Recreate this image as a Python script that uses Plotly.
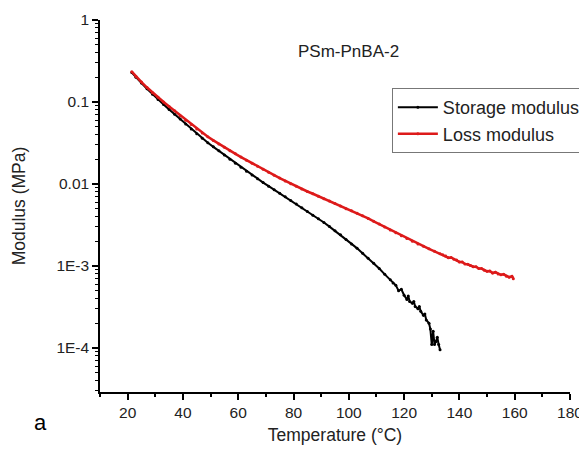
import plotly.graph_objects as go

# Storage modulus (black)
storage_T = [21.5, 23, 25, 27, 29, 31, 33, 35, 37, 39, 41, 43, 45, 47, 49, 51, 53, 55, 57, 59,
             61, 63, 65, 67, 69, 71, 73, 75, 77, 79, 81, 83, 85, 87, 89, 91, 93, 95, 97, 99,
             101, 103, 105, 107, 109, 111, 113, 115, 116, 117, 118, 119, 120, 121, 121.5, 122,
             123, 123.5, 124, 125, 125.5, 126, 127, 127.5, 128, 129, 129.5, 130, 130.5, 131,
             131.5, 132, 132.5, 133]
storage_G = [0.229, 0.200, 0.170, 0.145, 0.124, 0.107, 0.093, 0.081, 0.071, 0.062, 0.054, 0.047,
             0.041, 0.036, 0.0318, 0.0284, 0.0254, 0.0226, 0.0201, 0.0179, 0.0160, 0.0143, 0.0129,
             0.0116, 0.0104, 0.0094, 0.0085, 0.0077, 0.0070, 0.0063, 0.00569, 0.00513, 0.00462,
             0.00417, 0.00376, 0.00339, 0.00302, 0.00269, 0.00240, 0.00211, 0.00186, 0.00164,
             0.00143, 0.00124, 0.00108, 0.00093, 0.00079, 0.00068, 0.00062, 0.00058, 0.00050,
             0.00052, 0.00044, 0.00039, 0.00043, 0.00037, 0.00035, 0.00037, 0.00032, 0.00030,
             0.00032, 0.00028, 0.00025, 0.00026, 0.00022, 0.00020, 0.00017, 0.00011, 0.00016,
             0.00011, 0.00012, 0.000135, 0.00011, 0.000095]

# Loss modulus (red)
loss_T = [21.5, 23, 25, 27, 29, 31, 33, 35, 37, 39, 41, 43, 45, 47, 49, 51, 53, 55, 57, 59,
          61, 63, 65, 67, 69, 71, 73, 75, 77, 79, 81, 83, 85, 87, 89, 91, 93, 95, 97, 99,
          101, 103, 105, 107, 109, 111, 113, 115, 117, 119, 121, 123, 125, 127, 129, 131,
          133, 134, 135, 136, 137, 138, 139, 140, 141, 142, 143, 144, 145, 146, 147, 148,
          149, 150, 151, 152, 153, 154, 155, 156, 157, 158, 159, 159.5]
loss_G = [0.234, 0.205, 0.175, 0.150, 0.130, 0.114, 0.100, 0.088, 0.078, 0.068, 0.060, 0.053,
          0.047, 0.042, 0.0377, 0.0340, 0.0308, 0.0280, 0.0255, 0.0233, 0.0213, 0.0195, 0.0179,
          0.0164, 0.0151, 0.0139, 0.0128, 0.0118, 0.0109, 0.0101, 0.0094, 0.0087, 0.0081,
          0.0076, 0.0071, 0.0066, 0.0062, 0.0058, 0.0054, 0.0050, 0.0047, 0.0044, 0.0041,
          0.0038, 0.0035, 0.00324, 0.00299, 0.00275, 0.00254, 0.00234, 0.00216, 0.00200,
          0.00186, 0.00174, 0.00162, 0.00151, 0.00141, 0.00137, 0.00132, 0.00126, 0.00127,
          0.00121, 0.00118, 0.00112, 0.00112, 0.00106, 0.00105, 0.00101, 0.00098, 0.00098,
          0.00093, 0.00093, 0.00089, 0.00086, 0.00087, 0.00082, 0.00084, 0.00080, 0.00078,
          0.00079, 0.00075, 0.00073, 0.00075, 0.00070]

x_ticks = [20, 40, 60, 80, 100, 120, 140, 160, 180]
x_minor = [10, 30, 50, 70, 90, 110, 130, 150, 170]
y_ticks = [1, 0.1, 0.01, 0.001, 0.0001]
y_ticktext = ["1", "0.1", "0.01", "1E-3", "1E-4"]
y_minor = [m * d for d in [1e-5, 1e-4, 1e-3, 1e-2, 1e-1] for m in range(2, 10) if m * d >= 2.9e-5]

FONT = "Liberation Sans, Arial, sans-serif"

fig = go.Figure()
fig.add_trace(go.Scatter(x=storage_T, y=storage_G, mode="lines+markers", name="Storage modulus",
                         line=dict(color="black", width=2), marker=dict(color="black", size=3)))
fig.add_trace(go.Scatter(x=loss_T, y=loss_G, mode="lines+markers", name="Loss modulus",
                         line=dict(color="#dd1a1a", width=2.5), marker=dict(color="#dd1a1a", size=3)))

fig.update_layout(
    width=587, height=453,
    margin=dict(l=92, r=25, t=12, b=69, autoexpand=False),
    paper_bgcolor="white", plot_bgcolor="white",
    font=dict(family=FONT, color="#222", size=15),
    legend=dict(x=0.621, y=0.817, xanchor="left", yanchor="top",
                bordercolor="#777", borderwidth=1, bgcolor="white",
                font=dict(size=18, family=FONT, color="#222"),
                itemwidth=40, tracegroupgap=0),
    xaxis=dict(range=[10, 180], showline=True, linecolor="black", linewidth=1.5,
               showgrid=False, zeroline=False, ticks="outside", ticklen=6, tickwidth=1.5,
               tickcolor="black", tickvals=x_ticks, automargin=False,
               minor=dict(tickvals=x_minor, ticks="outside", ticklen=3, tickwidth=1.5,
                          tickcolor="black", showgrid=False),
               title=dict(text="Temperature (°C)", font=dict(size=17.5), standoff=8),
               tickfont=dict(size=15.5)),
    yaxis=dict(type="log", range=[-4.537, 0], showline=True, linecolor="black", linewidth=1.5,
               showgrid=False, zeroline=False, ticks="outside", ticklen=6, tickwidth=1.5,
               tickcolor="black", tickvals=y_ticks, ticktext=y_ticktext, automargin=False,
               minor=dict(tickvals=y_minor, ticks="outside", ticklen=3, tickwidth=1.2,
                          tickcolor="black", showgrid=False),
               title=dict(text="Modulus (MPa)", font=dict(size=17.5), standoff=26),
               tickfont=dict(size=15.5)),
    annotations=[
        dict(text="PSm-PnBA-2", xref="paper", yref="paper", x=0.528, y=0.946,
             showarrow=False, font=dict(size=17, family=FONT, color="#222")),
        dict(text="a", xref="paper", yref="paper", x=-0.145, y=-0.121,
             showarrow=False, font=dict(size=22, family="Liberation Sans, Arial", color="black")),
    ],
)

fig.write_html("out.html")
